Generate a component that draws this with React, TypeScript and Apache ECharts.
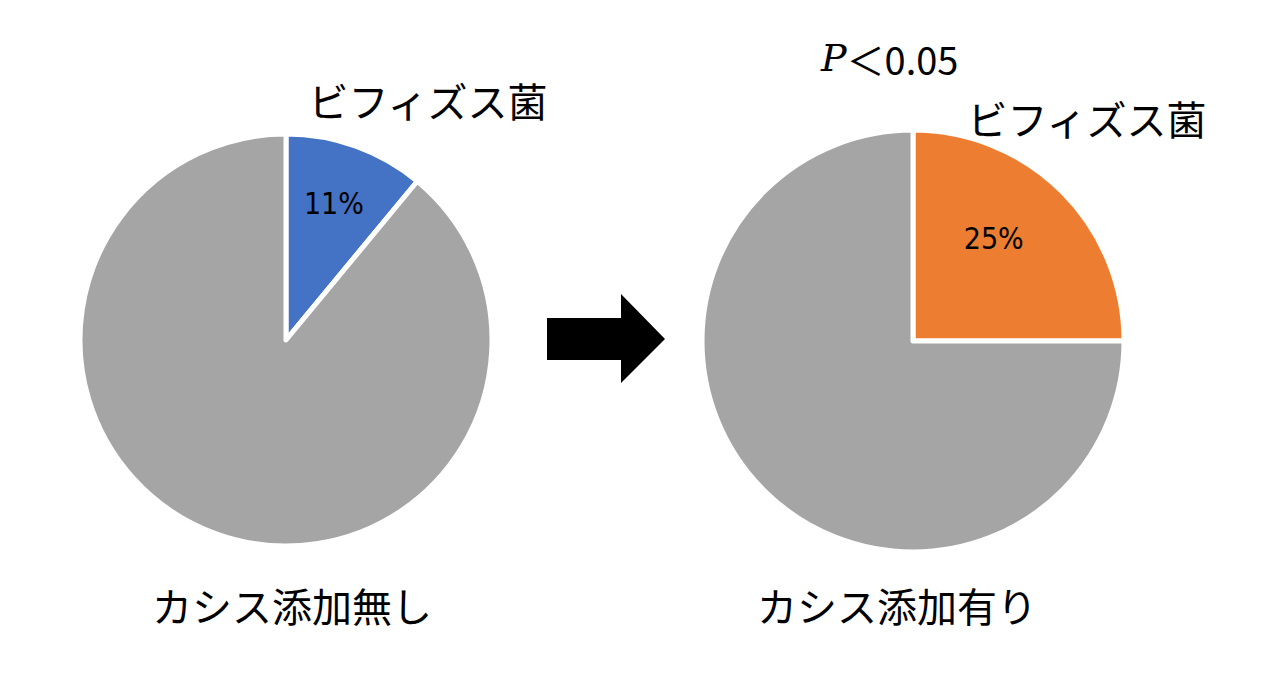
import { useEffect, useRef } from "react";
import * as echarts from "echarts";

// 割合 (%)
const sliceNames = ["ビフィズス菌", "その他"];
const withoutCassis = [11, 89];
const withCassis = [25, 75];
const groupNames = ["カシス添加無し", "カシス添加有り"];
const pValueText = "＜0.05";

const jp = "'Noto Sans CJK JP', 'Noto Sans', sans-serif";
const narrow = "'Liberation Sans Narrow', 'DejaVu Sans Condensed', 'Liberation Sans', sans-serif";

export default function App(): JSX.Element {
  const chartRef = useRef<HTMLDivElement>(null);

  useEffect(() => {
    document.body.style.margin = "0";
    const myChart = echarts.init(chartRef.current, null, { renderer: "svg" });

    const pieData = (values: number[], color: string, offset: number[]) =>
      values.map((v, i) => ({
        name: sliceNames[i],
        value: v,
        itemStyle: { color: i === 0 ? color : "#A5A5A5" },
        label: i === 0 ? { show: true, offset } : { show: false },
      }));

    const pieBase = {
      type: "pie",
      startAngle: 90,
      clockwise: true,
      silent: true,
      itemStyle: { borderColor: "#ffffff", borderWidth: 5 },
      label: {
        position: "inside",
        formatter: "{c}%",
        color: "#000000",
        fontSize: 30,
        fontWeight: 500,
        fontFamily: narrow,
      },
      labelLine: { show: false },
      emphasis: { disabled: true },
    };

    const textStyle = (text: string) => ({
      text,
      font: `40px ${jp}`,
      fill: "#000",
      align: "center",
      verticalAlign: "middle",
    });

    const option = {
      animation: false,
      backgroundColor: "#ffffff",
      series: [
        {
          ...pieBase,
          center: [286, 340],
          radius: 206,
          data: pieData(withoutCassis, "#4472C4", [12, -37]),
        },
        {
          ...pieBase,
          center: [913, 341],
          radius: 211,
          data: pieData(withCassis, "#ED7D31", [4, -26]),
        },
      ],
      graphic: [
        { type: "text", x: 428, y: 100, style: textStyle(sliceNames[0]) },
        { type: "text", x: 1087, y: 118, style: textStyle(sliceNames[0]) },
        { type: "text", x: 292, y: 605, style: textStyle(groupNames[0]) },
        { type: "text", x: 897, y: 605, style: textStyle(groupNames[1]) },
        {
          type: "text",
          x: 821,
          y: 58,
          style: {
            text: `{p|P}{r|${pValueText}}`,
            verticalAlign: "middle",
            rich: {
              p: { fontFamily: "'DejaVu Serif', serif", fontStyle: "italic", fontSize: 38, fill: "#000" },
              r: { fontFamily: jp, fontSize: 38, fill: "#000" },
            },
          },
        },
        {
          type: "polygon",
          shape: {
            points: [
              [547, 318],
              [621, 318],
              [621, 294],
              [665, 339],
              [621, 383],
              [621, 360],
              [547, 360],
            ],
          },
          style: { fill: "#000000" },
        },
      ],
    };

    myChart.setOption(option);
    return () => {
      myChart.dispose();
    };
  }, []);

  return <div ref={chartRef} style={{ width: 1261, height: 685 }}></div>;
}
